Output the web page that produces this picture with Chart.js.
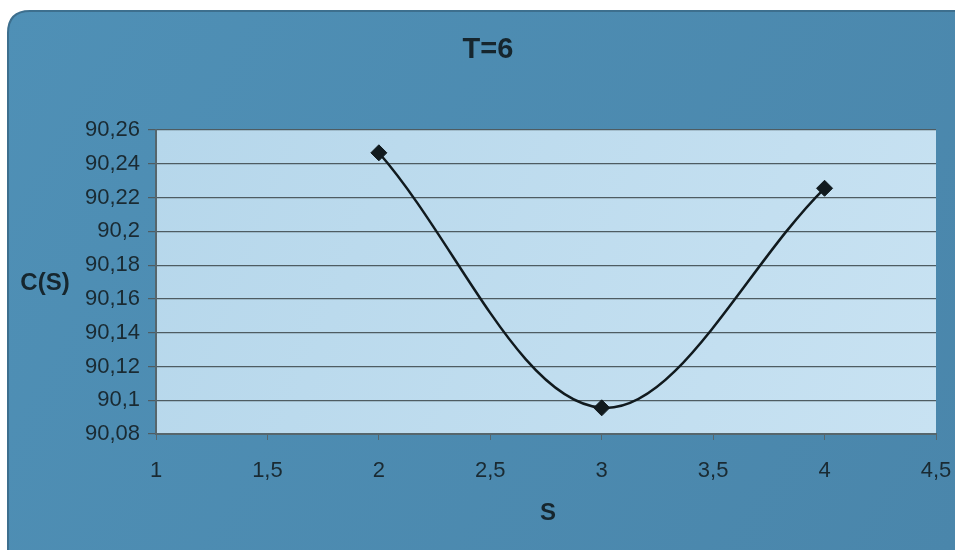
<!DOCTYPE html>
<html>
<head>
<meta charset="utf-8">
<script src="https://cdn.jsdelivr.net/npm/chart.js@4/dist/chart.umd.min.js"></script>
<style>
html,body{margin:0;padding:0;background:#fff;}
#wrap{width:955px;height:550px;position:relative;}
</style>
</head>
<body>
<div id="wrap"><canvas id="c" width="955" height="550"></canvas></div>
<script>
const sValues = [2, 3, 4];
const costValues = [90.2465, 90.0955, 90.2255];
const xTicks = [1, 1.5, 2, 2.5, 3, 3.5, 4, 4.5];
const yTicks = [90.08, 90.10, 90.12, 90.14, 90.16, 90.18, 90.20, 90.22, 90.24, 90.26];
const chartTitle = 'T=6';
const xTitle = 'S';
const yTitle = 'C(S)';

const FONT = '"Liberation Sans", Arial, sans-serif';
const fmt = v => parseFloat(Number(v).toFixed(2)).toString().replace('.', ',');

const bgPlugin = {
  id: 'bg',
  beforeDraw(chart) {
    const ctx = chart.ctx;
    const a = chart.chartArea;
    ctx.save();
    ctx.fillStyle = '#ffffff';
    ctx.fillRect(0, 0, chart.width, chart.height);
    const x = 8, y = 11, w = 970, h = 560, r = 22;
    const g = ctx.createLinearGradient(0, 0, 955, 550);
    g.addColorStop(0, '#4f90b6');
    g.addColorStop(1, '#4a86ab');
    ctx.beginPath();
    ctx.moveTo(x + r, y);
    ctx.lineTo(x + w - r, y);
    ctx.quadraticCurveTo(x + w, y, x + w, y + r);
    ctx.lineTo(x + w, y + h - r);
    ctx.quadraticCurveTo(x + w, y + h, x + w - r, y + h);
    ctx.lineTo(x + r, y + h);
    ctx.quadraticCurveTo(x, y + h, x, y + h - r);
    ctx.lineTo(x, y + r);
    ctx.quadraticCurveTo(x, y, x + r, y);
    ctx.closePath();
    ctx.fillStyle = g;
    ctx.fill();
    ctx.lineWidth = 2;
    ctx.strokeStyle = '#3d6f8e';
    ctx.stroke();
    const pg = ctx.createLinearGradient(a.left, a.top, a.right, a.bottom);
    pg.addColorStop(0, '#b6d7eb');
    pg.addColorStop(1, '#c8e2f2');
    ctx.fillStyle = pg;
    ctx.fillRect(a.left, a.top, a.right - a.left, a.bottom - a.top);
    ctx.restore();
  },
  afterDraw(chart) {
    const ctx = chart.ctx;
    ctx.save();
    ctx.fillStyle = '#16262e';
    ctx.textAlign = 'center';
    ctx.textBaseline = 'middle';
    ctx.font = 'bold 29px ' + FONT;
    ctx.fillText(chartTitle, 488, 50);
    ctx.font = 'bold 24px ' + FONT;
    ctx.fillText(yTitle, 45, 283);
    ctx.fillText(xTitle, 548, 513);
    ctx.restore();
  }
};

new Chart(document.getElementById('c'), {
  type: 'scatter',
  data: {
    datasets: [{
      data: sValues.map((s, i) => ({x: s, y: costValues[i]})),
      showLine: true,
      tension: 0.35,
      borderColor: '#111a1e',
      borderWidth: 2.5,
      pointStyle: 'rectRot',
      pointRadius: 8,
      pointHoverRadius: 8,
      pointBorderWidth: 1,
      pointBackgroundColor: '#111a1e',
      pointBorderColor: '#111a1e'
    }]
  },
  plugins: [bgPlugin],
  options: {
    responsive: false,
    animation: false,
    layout: {padding: {left: 0, right: 19, top: 130, bottom: 0}},
    plugins: {
      legend: {display: false},
      tooltip: {enabled: false},
      title: {display: false}
    },
    scales: {
      x: {
        type: 'linear',
        min: 1, max: 4.5,
        afterBuildTicks: s => { s.ticks = xTicks.map(v => ({value: v})); },
        afterFit: s => { s.height = 116; s.paddingLeft = 0; s.paddingRight = 0; },
        border: {color: '#56666c', width: 2},
        grid: {drawOnChartArea: false, drawTicks: true, tickLength: 6, color: '#56666c'},
        ticks: {
          callback: v => fmt(v),
          color: '#1a2a32',
          padding: 18,
          maxRotation: 0,
          autoSkip: false,
          font: {family: FONT, size: 22}
        }
      },
      y: {
        type: 'linear',
        min: 90.08, max: 90.26,
        afterBuildTicks: s => { s.ticks = yTicks.map(v => ({value: v})); },
        afterFit: s => { s.width = 156; s.paddingTop = 0; s.paddingBottom = 0; },
        border: {color: '#56666c', width: 2},
        grid: {color: '#4e5c62', lineWidth: 1.2, drawTicks: true, tickLength: 8},
        ticks: {
          callback: v => fmt(v),
          color: '#1a2a32',
          padding: 8,
          autoSkip: false,
          font: {family: FONT, size: 22}
        }
      }
    }
  }
});
</script>
</body>
</html>
